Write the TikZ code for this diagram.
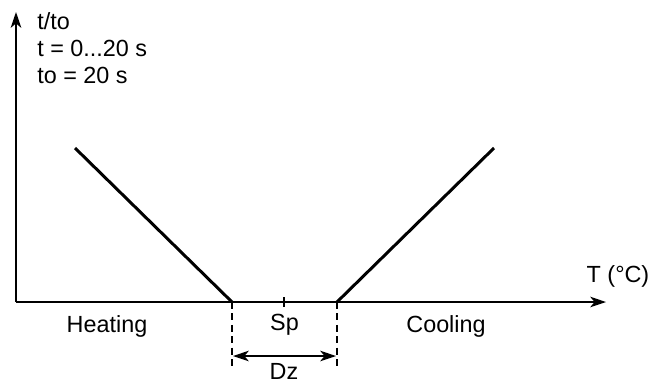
\documentclass[tikz,border=0pt]{standalone}
\usepackage{fontspec}
\setmainfont{Liberation Sans}
\usepackage{tikz}
\usetikzlibrary{calc, arrows.meta}

\begin{document}
\begin{tikzpicture}[x=0.02cm, y=-0.02cm,
    axis/.style={line width=0.75pt, -{Stealth[length=9pt, width=6pt, inset=2.5pt]}},
    curve/.style={line width=1.7pt},
    guide/.style={line width=0.7pt, dash pattern=on 4pt off 2.5pt},
    lbl/.style={font=\fontsize{13.3}{16}\selectfont, inner sep=0pt, anchor=base}]
  \useasboundingbox (0,0) rectangle (651,383);
  % axes
  \coordinate (O) at (16,302);
  \coordinate (ytop) at (16,12);
  \coordinate (xend) at (606,302);
  \draw[axis] (O) -- (ytop);
  \draw[axis] (O) -- (xend);
  % dead zone limits
  \coordinate (dzl) at (232,302);
  \coordinate (dzr) at (337,302);
  \coordinate (sp) at (284,297);
  \draw[curve] (75,148) -- (dzl);
  \draw[curve] (dzr) -- (494,148);
  \draw[guide] (dzl) -- ++(0,68);
  \draw[guide] (dzr) -- ++(0,68);
  \draw[line width=0.75pt] (sp) -- ++(0,10);
  \coordinate (dzla) at (233,356);
  \coordinate (dzra) at (336,356);
  \draw[line width=0.75pt, {Stealth[length=9pt, width=6pt, inset=2.5pt]}-{Stealth[length=9pt, width=6pt, inset=2.5pt]}] (dzla) -- (dzra);
  % labels
  \node[lbl, anchor=base west] (tto) at (37,29) {t/to};
  \node[lbl, anchor=base west] (trange) at (37,56) {t = 0...20 s};
  \node[lbl, anchor=base west] (tzero) at (37,83) {to = 20 s};
  \node[lbl] (temp) at (618,282) {T (°C)};
  \node[lbl] (heat) at (107,332) {Heating};
  \node[lbl] (cool) at (446,332) {Cooling};
  \node[lbl] (splbl) at (284.5,330) {Sp};
  \node[lbl] (dzlbl) at (284,379) {Dz};
\end{tikzpicture}
\end{document}
